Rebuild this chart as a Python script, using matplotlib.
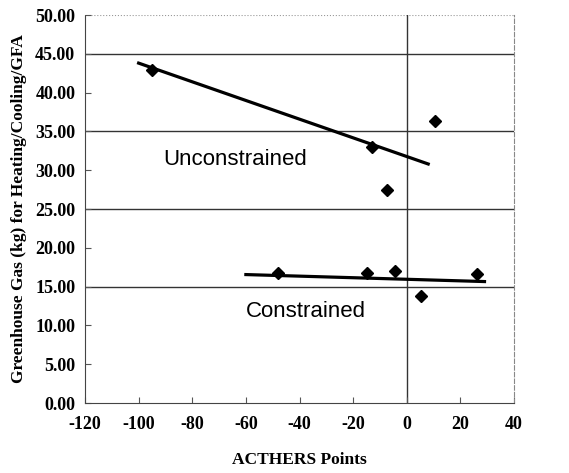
import matplotlib
matplotlib.use("Agg")
import matplotlib.pyplot as plt

unc_x = [-95, -13, 10.5, -7.5]
unc_y = [42.9, 33.0, 36.4, 27.4]
con_x = [-48, -15, -4.5, 5.3, 26.3]
con_y = [16.7, 16.7, 17.05, 13.8, 16.6]
unc_trend_x = [-100, 8]
unc_trend_y = [43.8, 30.8]
con_trend_x = [-60, 29]
con_trend_y = [16.55, 15.65]
grid_y = [15, 25, 35, 45]
xticks = [-120, -100, -80, -60, -40, -20, 0, 20, 40]
yticks = [0, 5, 10, 15, 20, 25, 30, 35, 40, 45, 50]

fig = plt.figure(figsize=(5.69, 4.73), dpi=100)
ax = fig.add_axes([85/569, 1-403/473, (514-85)/569, (403-15)/473])
ax.set_xlim(-120, 40)
ax.set_ylim(0, 50)

for g in grid_y:
    ax.axhline(g, color="#333333", lw=1.0, zorder=1)
ax.axhline(50, color="#999999", lw=0.8, ls=":", zorder=1)
ax.axvline(0, color="#333333", lw=1.0, zorder=1)

ax.plot(unc_trend_x, unc_trend_y, color="black", lw=2.3, zorder=3)
ax.plot(con_trend_x, con_trend_y, color="black", lw=2.3, zorder=3)
ax.plot(unc_x, unc_y, "D", color="black", ms=6.5, zorder=4, ls="none")
ax.plot(con_x, con_y, "D", color="black", ms=6.5, zorder=4, ls="none")

ax.text(-91, 31.4, "Unconstrained", fontsize=16, family="Liberation Sans",
        va="center", ha="left", zorder=5)
ax.text(-60, 11.8, "Constrained", fontsize=16, family="Liberation Sans",
        va="center", ha="left", zorder=5)

ax.set_xticks(xticks)
ax.set_yticks(yticks)
ax.set_xticklabels([str(t) for t in xticks], family="Liberation Serif",
                   fontweight="bold", fontsize=13)
ax.set_yticklabels([f"{t:.2f}" for t in yticks], family="Liberation Serif",
                   fontweight="bold", fontsize=13)
ax.tick_params(axis="both", direction="in", length=4, color="#555555")
ax.tick_params(axis="y", pad=7)
ax.tick_params(axis="x", pad=9)
for s in ["left", "bottom"]:
    ax.spines[s].set_color("#444444")
    ax.spines[s].set_linestyle((0, (4, 1)))
ax.spines["right"].set_color("#888888")
ax.spines["right"].set_linestyle((0, (4, 2)))
ax.spines["top"].set_visible(False)

ax.set_xlabel("ACTHERS Points", family="Liberation Serif", fontweight="bold",
              fontsize=12.5, labelpad=14)
ax.set_ylabel("Greenhouse Gas (kg) for Heating/Cooling/GFA",
              family="Liberation Serif", fontweight="bold", fontsize=12.5,
              labelpad=6)

fig.savefig("out.png", dpi=100)
